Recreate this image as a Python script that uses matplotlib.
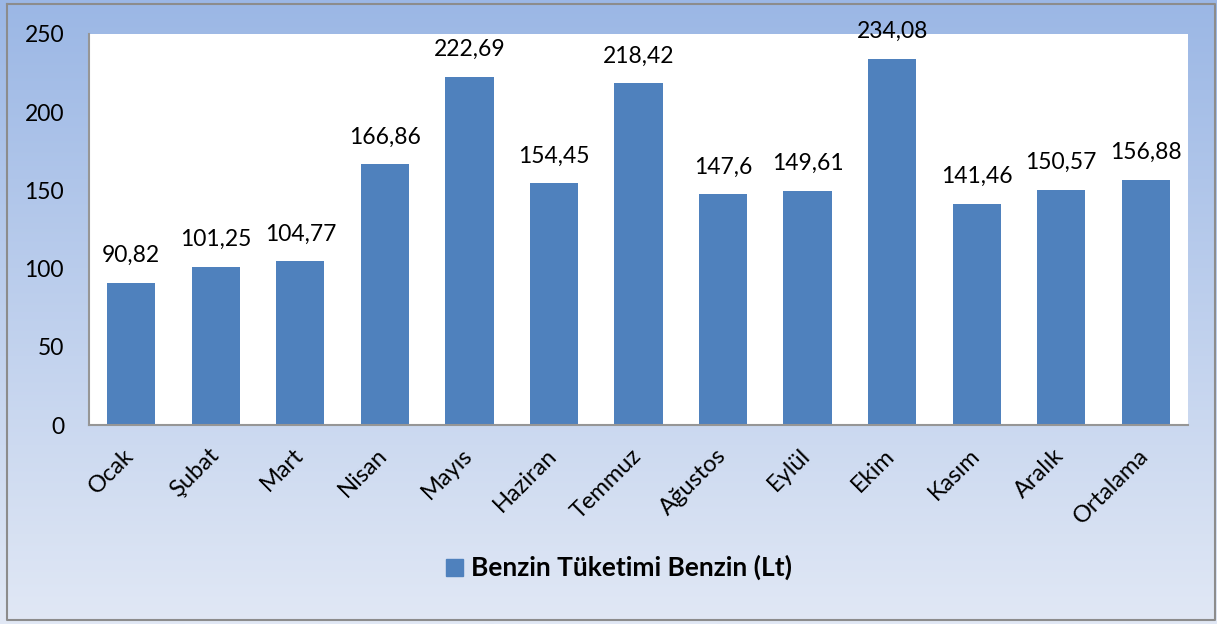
import matplotlib.pyplot as plt
import matplotlib.transforms as mtransforms
import numpy as np

plt.rcParams['font.family'] = ['Lato', 'DejaVu Sans']

aylar = ['Ocak', 'Şubat', 'Mart', 'Nisan', 'Mayıs', 'Haziran', 'Temmuz',
         'Ağustos', 'Eylül', 'Ekim', 'Kasım', 'Aralık', 'Ortalama']
benzin = [90.82, 101.25, 104.77, 166.86, 222.69, 154.45, 218.42,
          147.6, 149.61, 234.08, 141.46, 150.57, 156.88]
etiketler = ['90,82', '101,25', '104,77', '166,86', '222,69', '154,45', '218,42',
             '147,6', '149,61', '234,08', '141,46', '150,57', '156,88']
seri_adi = 'Benzin Tüketimi Benzin (Lt)'

renk = '#4F81BD'
W, H = 1217, 624
fig = plt.figure(figsize=(W / 100, H / 100), dpi=100)

# gradient background
bg = fig.add_axes([0, 0, 1, 1], zorder=0)
grad = np.linspace(0, 1, 256).reshape(-1, 1)
top = np.array([0x9B, 0xB7, 0xE5]) / 255
bot = np.array([0xE1, 0xE8, 0xF5]) / 255
img = top + (bot - top) * grad[..., None]
bg.imshow(img.reshape(256, 1, 3), aspect='auto', extent=[0, 1, 0, 1])
bg.plot([7 / W, 1215 / W, 1215 / W, 7 / W, 7 / W],
        [1 - 4 / H, 1 - 4 / H, 1 - 620 / H, 1 - 620 / H, 1 - 4 / H],
        color='#8C8C8C', lw=1.5)
bg.set_xlim(0, 1)
bg.set_ylim(0, 1)
bg.axis('off')

ax = fig.add_axes([89 / W, 1 - 425 / H, (1188 - 89) / W, (425 - 34) / H], zorder=1)
x = np.arange(len(aylar))
ax.bar(x, benzin, width=0.57, color=renk, zorder=2)
ax.set_xlim(-0.5, len(aylar) - 0.5)
ax.set_ylim(0, 250)
ax.set_yticks(range(0, 251, 50))
ax.set_xticks(x)
ax.set_xticklabels(aylar, rotation=45, ha='right', rotation_mode='anchor')
ax.tick_params(axis='y', length=0, labelsize=16.5, pad=18)
ax.tick_params(axis='x', length=0, labelsize=17, pad=12)
kay = mtransforms.ScaledTranslation(-0.08, -0.03, fig.dpi_scale_trans)
for lbl in ax.get_xticklabels():
    lbl.set_transform(lbl.get_transform() + kay)
for s in ['top', 'right']:
    ax.spines[s].set_visible(False)
for s in ['left', 'bottom']:
    ax.spines[s].set_color('#969696')
    ax.spines[s].set_linewidth(1.5)

for xi, v, t in zip(x, benzin, etiketler):
    ax.annotate(t, (xi, v), xytext=(0, 12), textcoords='offset points',
                ha='center', va='bottom', fontsize=16.5, clip_on=False)

# legend
fig.patches.append(plt.Rectangle((446 / W, 1 - 576 / H), 17 / W, 17 / H,
                                 transform=fig.transFigure, color=renk, zorder=3))
fig.text(471 / W, 1 - 567 / H, seri_adi, fontsize=19, fontweight='bold',
         va='center', ha='left', zorder=3)

fig.savefig('out.png', dpi=100)
